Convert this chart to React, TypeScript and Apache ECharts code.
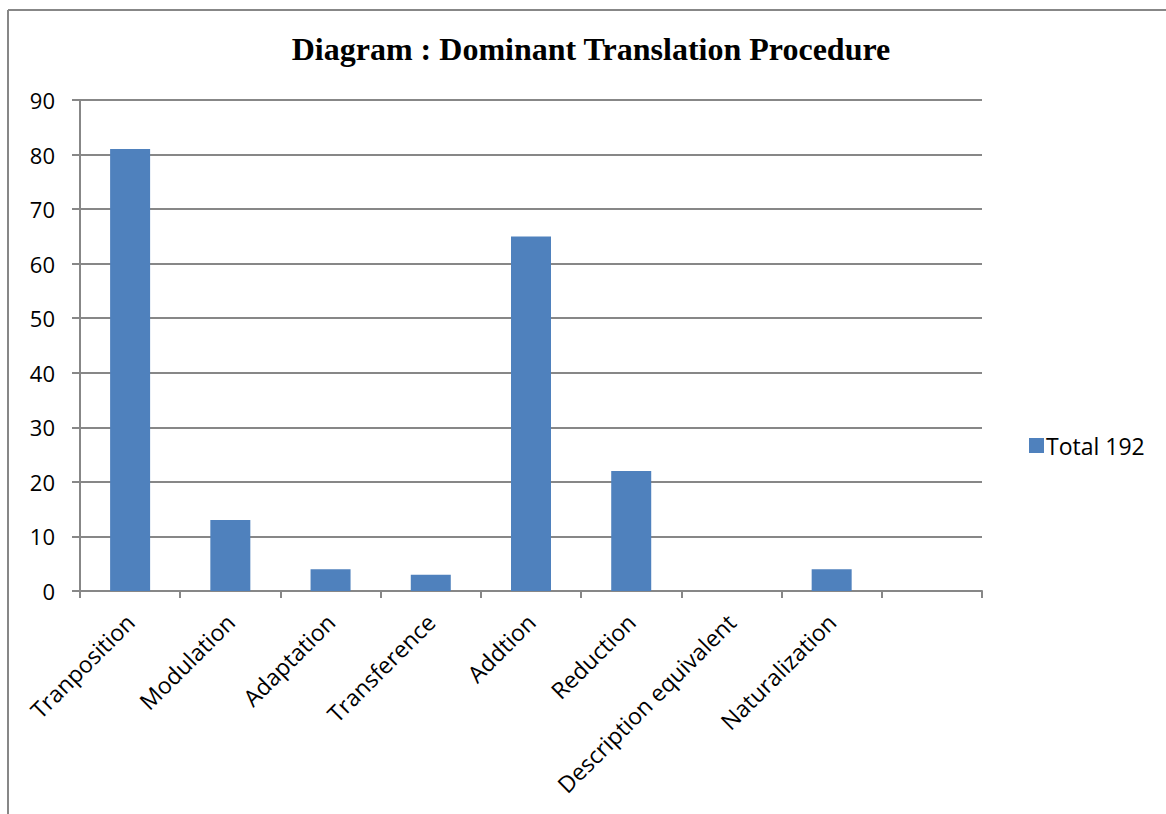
import React, { useEffect, useRef } from "react";
import * as echarts from "echarts";

const categories = [
  "Tranposition",
  "Modulation",
  "Adaptation",
  "Transference",
  "Addtion",
  "Reduction",
  "Description equivalent",
  "Naturalization",
  "",
];
const values: (number | null)[] = [81, 13, 4, 3, 65, 22, 0, 4, null];
const yTicks = { min: 0, max: 90, interval: 10 };
const seriesName = "Total 192";
const titleText = "Diagram : Dominant Translation Procedure";

export default function App() {
  const ref = useRef<HTMLDivElement>(null);
  useEffect(() => {
    if (!ref.current) return;
    const chart = echarts.init(ref.current, null, { renderer: "svg" });
    const gray = "#878787";
    chart.setOption({
      animation: false,
      backgroundColor: "#ffffff",
      title: {
        text: titleText,
        left: 586,
        textAlign: "center",
        top: 28,
        textStyle: {
          fontFamily: "Liberation Serif",
          fontWeight: "bold",
          fontSize: 32,
          color: "#000",
        },
      },
      legend: {
        left: 1024,
        top: 429,
        orient: "vertical",
        itemWidth: 15,
        itemHeight: 15,
        itemGap: 6,
        icon: "rect",
        textStyle: { fontFamily: "Open Sans", fontSize: 23, color: "#000", padding: [0, 0, 0, -3] },
        data: [seriesName],
      },
      graphic: [
        { type: "line", shape: { x1: 8, y1: 10, x2: 8, y2: 814 }, style: { stroke: gray, lineWidth: 2 } },
        { type: "line", shape: { x1: 8, y1: 10, x2: 1166, y2: 10 }, style: { stroke: gray, lineWidth: 2 } },
      ],
      grid: { left: 80, right: 184, top: 100, bottom: 223, containLabel: false },
      xAxis: {
        type: "category",
        data: categories,
        axisLine: { show: true, lineStyle: { color: gray, width: 2 } },
        axisTick: { show: true, length: 7, alignWithLabel: false, lineStyle: { color: gray, width: 2 } },
        axisLabel: {
          rotate: 45,
          interval: 0,
          margin: 27,
          fontFamily: "Open Sans",
          fontSize: 23,
          color: "#000",
        },
      },
      yAxis: {
        type: "value",
        min: yTicks.min,
        max: yTicks.max,
        interval: yTicks.interval,
        axisLine: { show: true, lineStyle: { color: gray, width: 2 } },
        axisTick: { show: true, length: 8, lineStyle: { color: gray, width: 2 } },
        splitLine: { show: true, lineStyle: { color: gray, width: 2 } },
        axisLabel: {
          margin: 25,
          fontFamily: "Open Sans",
          fontSize: 22,
          color: "#000",
        },
      },
      series: [
        {
          name: seriesName,
          type: "bar",
          data: values,
          barWidth: 40,
          itemStyle: { color: "#4F81BD" },
        },
      ],
    });
    return () => chart.dispose();
  }, []);
  return (
    <div
      ref={ref}
      style={{ position: "fixed", left: 0, top: 0, width: 1166, height: 814 }}
    />
  );
}
